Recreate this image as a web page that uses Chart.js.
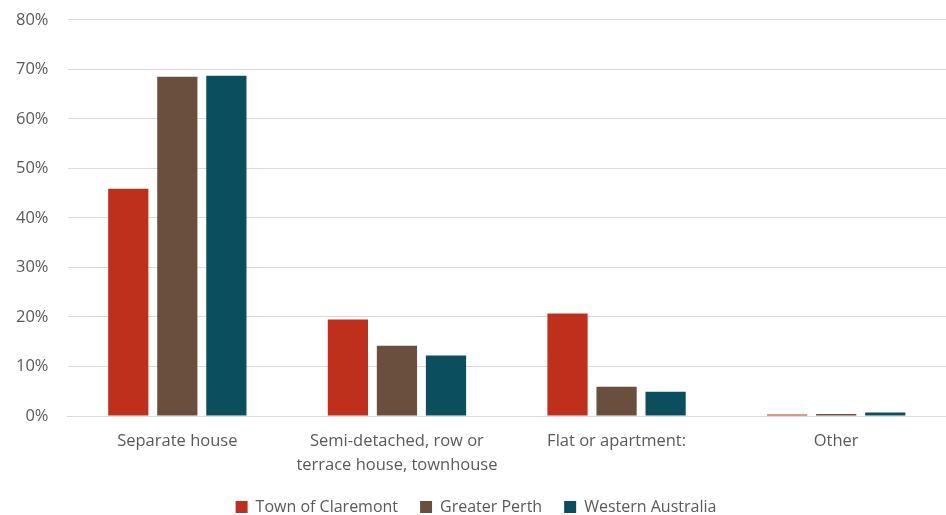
<!DOCTYPE html>
<html>
<head>
<meta charset="utf-8">
<script src="https://cdn.jsdelivr.net/npm/chart.js@4"></script>
<style>
  html, body { margin: 0; padding: 0; background: #fff; }
  #wrap { width: 946px; height: 515px; position: relative; }
</style>
</head>
<body>
<div id="wrap"><canvas id="chart"></canvas></div>
<script>
const categories = ["Separate house", ["Semi-detached, row or", "terrace house, townhouse"], "Flat or apartment:", "Other"];
const claremont = [45.9, 19.5, 20.7, 0.3];
const greaterPerth = [68.5, 14.2, 5.9, 0.4];
const westernAustralia = [68.7, 12.2, 4.9, 0.7];
const yTicks = [0, 10, 20, 30, 40, 50, 60, 70, 80];

const fontFamily = "'Open Sans', 'Liberation Sans', sans-serif";

new Chart(document.getElementById("chart").getContext("2d"), {
    type: "bar",
    data: {
        labels: categories,
        datasets: [
            { label: "Town of Claremont", data: claremont, backgroundColor: "#BE301C" },
            { label: "Greater Perth", data: greaterPerth, backgroundColor: "#6A4F3F" },
            { label: "Western Australia", data: westernAustralia, backgroundColor: "#0B4F5F" }
        ]
    },
    options: {
        responsive: true,
        maintainAspectRatio: false,
        animation: false,
        layout: { padding: { top: 0, right: 0, left: 6, bottom: 0 } },
        datasets: { bar: { categoryPercentage: 0.67, barPercentage: 0.82 } },
        scales: {
            x: {
                grid: { display: false },
                border: { color: "#D9D9D9", width: 1 },
                afterFit: axis => { axis.height = 61; },
                ticks: { color: "#595959", font: { family: fontFamily, size: 16.5, lineHeight: 1.45 }, maxRotation: 0, padding: 5 }
            },
            y: {
                min: 0,
                max: 80,
                afterBuildTicks: axis => { axis.ticks = yTicks.map(v => ({ value: v })); },
                // invisible tick marks push the labels left without adding top padding
                grid: { color: "#D9D9D9", drawTicks: true, tickLength: 9, tickColor: "rgba(0,0,0,0)" },
                border: { display: false },
                ticks: { color: "#595959", font: { family: fontFamily, size: 16.5 }, padding: 10, callback: v => v + "%" }
            }
        },
        plugins: {
            legend: {
                position: "bottom",
                maxHeight: 38,
                labels: { color: "#595959", font: { family: fontFamily, size: 16 }, boxWidth: 12, boxHeight: 12, padding: 22 }
            },
            tooltip: { enabled: false }
        }
    }
});
</script>
</body>
</html>
